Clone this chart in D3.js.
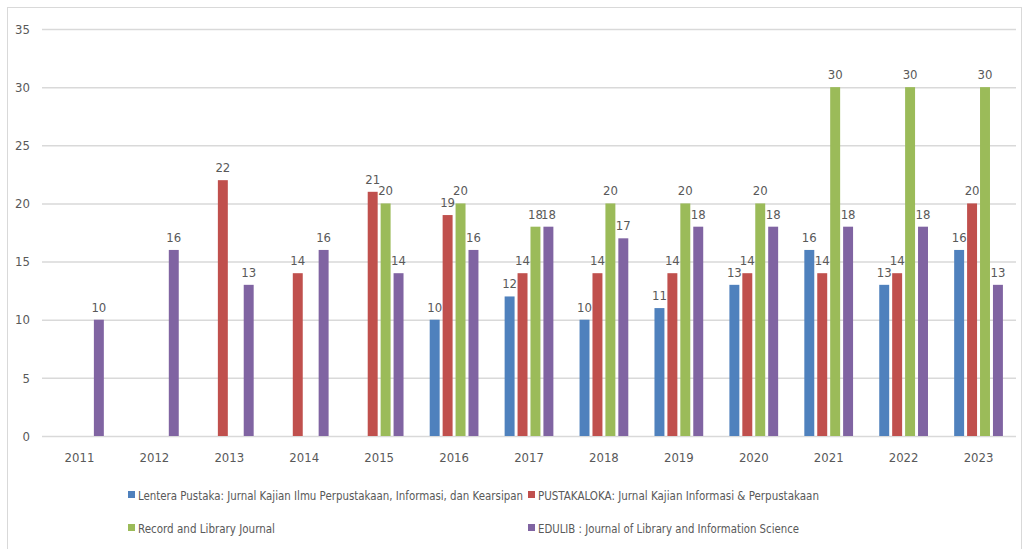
<!DOCTYPE html>
<html lang='en'>
<head>
  <meta charset='UTF-8'>
  <title>Jurnal</title>
  <script src="https://cdnjs.cloudflare.com/ajax/libs/d3/7.8.5/d3.min.js"></script>
  <style>
    body { margin: 0; background: #fff; }
    svg text { font-family: 'DejaVu Sans', sans-serif; font-stretch: condensed; fill: #595959; }
  </style>
</head>
<body>
  <div id="chart"></div>
  <script>
    const years = ['2011', '2012', '2013', '2014', '2015', '2016', '2017', '2018', '2019', '2020', '2021', '2022', '2023'];
    const seriesNames = [
      'Lentera Pustaka: Jurnal Kajian Ilmu Perpustakaan, Informasi, dan Kearsipan',
      'PUSTAKALOKA: Jurnal Kajian Informasi & Perpustakaan',
      'Record and Library Journal',
      'EDULIB : Journal of Library and Information Science'
    ];
    const lentera = [null, null, null, null, null, 10, 12, 10, 11, 13, 16, 13, 16];
    const pustakaloka = [null, null, 22, 14, 21, 19, 14, 14, 14, 14, 14, 14, 20];
    const record = [null, null, null, null, 20, 20, 18, 20, 20, 20, 30, 30, 30];
    const edulib = [10, 16, 13, 16, 14, 16, 18, 17, 18, 18, 18, 18, 13];
    const colors = ['#4f81bd', '#c0504d', '#9bbb59', '#8064a2'];
    const yTicks = [0, 5, 10, 15, 20, 25, 30, 35];

    const allSeries = [lentera, pustakaloka, record, edulib];

    const width = 1024;
    const height = 549;
    const svg = d3.select('#chart').append('svg')
      .attr('width', width)
      .attr('height', height);

    // frame
    svg.append('rect')
      .attr('x', 7.5).attr('y', 7.5)
      .attr('width', 1014).attr('height', 560)
      .attr('fill', '#fff')
      .attr('stroke', '#d9d9d9');

    const xScale = d3.scaleBand()
      .domain(years)
      .range([42, 1016])
      .paddingInner(0.27)
      .paddingOuter(0.135);

    const subScale = d3.scaleBand()
      .domain(d3.range(4))
      .range([0, xScale.bandwidth()])
      .padding(0.23);

    const yScale = d3.scaleLinear()
      .domain([0, 35])
      .range([436, 29]);

    // grid
    const yAxis = d3.axisLeft(yScale)
      .tickValues(yTicks)
      .tickSize(-(1016 - 42))
      .tickPadding(12);

    const gy = svg.append('g')
      .attr('transform', 'translate(42,0)')
      .call(yAxis);
    gy.select('.domain').remove();
    gy.selectAll('.tick line').attr('stroke', '#d9d9d9').attr('stroke-width', 1.5);
    gy.selectAll('.tick text').attr('font-size', 13).attr('fill', '#595959');

    const xAxis = d3.axisBottom(xScale)
      .tickSize(0)
      .tickPadding(17);
    const gx = svg.append('g')
      .attr('transform', 'translate(0,436)')
      .call(xAxis);
    gx.select('.domain').remove();
    gx.selectAll('.tick text').attr('font-size', 13).attr('fill', '#595959');

    // bars
    const rows = [];
    allSeries.forEach((vals, s) => {
      vals.forEach((v, i) => {
        if (v !== null) rows.push({ year: years[i], s: s, value: v });
      });
    });

    const groups = svg.append('g');
    groups.selectAll('rect')
      .data(rows)
      .join('rect')
      .attr('x', (d) => xScale(d.year) + subScale(d.s))
      .attr('y', (d) => yScale(d.value))
      .attr('width', subScale.bandwidth())
      .attr('height', (d) => yScale(0) - yScale(d.value))
      .attr('fill', (d) => colors[d.s]);

    groups.selectAll('text')
      .data(rows)
      .join('text')
      .attr('x', (d) => xScale(d.year) + subScale(d.s) + subScale.bandwidth() / 2)
      .attr('y', (d) => yScale(d.value) - 8)
      .attr('text-anchor', 'middle')
      .attr('font-size', 13)
      .text((d) => d.value);

    // legend
    const legendPos = [[128, 495], [528, 495], [128, 528], [528, 528]];
    const legendLen = [385, 281, 137, 261];
    const legend = svg.append('g');
    seriesNames.forEach((name, i) => {
      const [lx, ly] = legendPos[i];
      legend.append('rect')
        .attr('x', lx).attr('y', ly - 4)
        .attr('width', 7).attr('height', 7)
        .attr('fill', colors[i]);
      legend.append('text')
        .attr('x', lx + 10).attr('y', ly + 5)
        .attr('font-size', 13)
        .attr('textLength', legendLen[i])
        .attr('lengthAdjust', 'spacingAndGlyphs')
        .text(name);
    });
  </script>
</body>
</html>
